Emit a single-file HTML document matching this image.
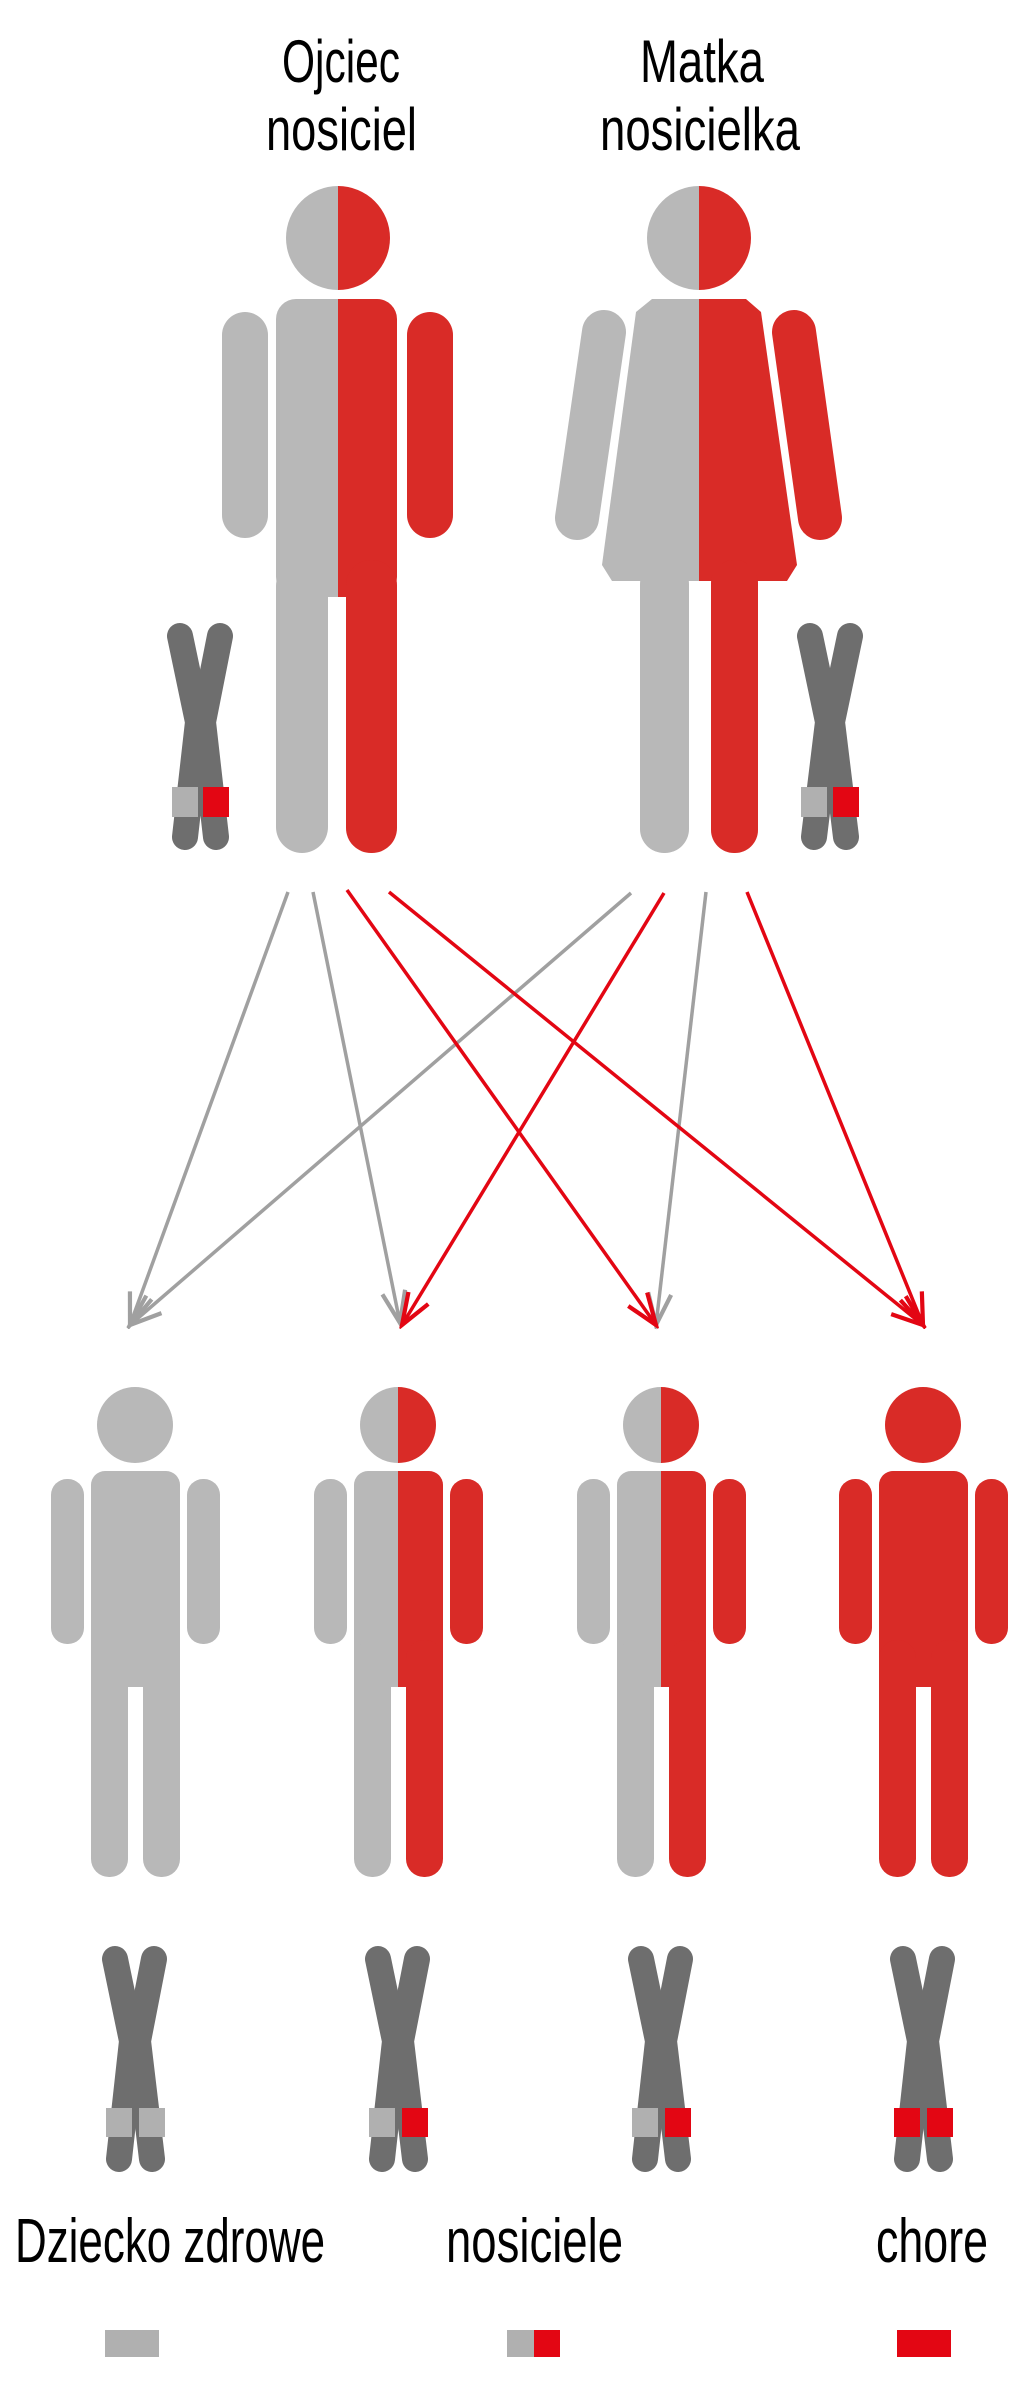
<!DOCTYPE html>
<html><head><meta charset="utf-8"><style>
html,body{margin:0;padding:0;background:#fff}
svg{display:block}
text{font-family:"Liberation Sans Narrow","Liberation Sans",sans-serif;fill:#000}
</style></head><body>
<svg width="1024" height="2383" viewBox="0 0 1024 2383" xmlns="http://www.w3.org/2000/svg">
<defs>
<marker id="ag" markerUnits="userSpaceOnUse" markerWidth="40" markerHeight="40" refX="0" refY="0" viewBox="-34 -16 38 32" orient="auto"><path d="M-30,-11 L0,0 L-30,11" fill="none" stroke="#a0a0a0" stroke-width="4"/></marker>
<marker id="ar" markerUnits="userSpaceOnUse" markerWidth="40" markerHeight="40" refX="0" refY="0" viewBox="-34 -16 38 32" orient="auto"><path d="M-30,-11 L0,0 L-30,11" fill="none" stroke="#e30613" stroke-width="4"/></marker>
</defs>

<text x="282" y="82" font-size="60" textLength="118" lengthAdjust="spacingAndGlyphs">Ojciec</text>
<text x="266" y="150" font-size="60" textLength="151" lengthAdjust="spacingAndGlyphs">nosiciel</text>
<text x="640" y="82" font-size="60" textLength="124" lengthAdjust="spacingAndGlyphs">Matka</text>
<text x="600" y="150" font-size="60" textLength="200" lengthAdjust="spacingAndGlyphs">nosicielka</text>

<clipPath id="fl"><rect x="0" y="0" width="338" height="1000"/></clipPath>
<clipPath id="fr"><rect x="338" y="0" width="300" height="1000"/></clipPath>
<defs>
<g id="fshape">
<circle cx="338" cy="238" r="52"/><rect x="276" y="299" width="121" height="298" rx="20"/><rect x="276" y="560" width="52" height="293" rx="26"/><rect x="346" y="560" width="51" height="293" rx="25"/><rect x="222" y="312" width="46" height="226" rx="23"/><rect x="407" y="312" width="46" height="226" rx="23"/>
</g>
</defs>
<g clip-path="url(#fl)"><use href="#fshape" fill="#b8b8b8"/></g>
<g clip-path="url(#fr)"><use href="#fshape" fill="#d92b27"/></g>
<rect x="328" y="597" width="18" height="270" fill="#fff"/>

<clipPath id="ml"><rect x="500" y="0" width="199" height="1000"/></clipPath>
<clipPath id="mr"><rect x="699" y="0" width="200" height="1000"/></clipPath>
<defs>
<g id="mshape">
<circle cx="699" cy="238" r="52"/><polygon points="636,312 652,299 746,299 761,312 797,565 787,581 612,581 602,565"/><rect x="640" y="560" width="49" height="293" rx="24"/><rect x="711" y="560" width="47" height="293" rx="23"/>
<line x1="604" y1="332" x2="577" y2="518" stroke-width="44" stroke-linecap="round"/><line x1="794" y1="332" x2="820" y2="518" stroke-width="44" stroke-linecap="round"/>
</g>
</defs>
<g clip-path="url(#ml)"><use href="#mshape" fill="#b8b8b8" stroke="#b8b8b8" stroke-width="0"/></g>
<g clip-path="url(#mr)"><use href="#mshape" fill="#d92b27" stroke="#d92b27" stroke-width="0"/></g>
<rect x="689" y="592" width="22" height="275" fill="#fff"/>

<g fill="none" stroke="#6e6e6e" stroke-width="26" stroke-linecap="round" stroke-linejoin="round">
<polyline points="180,636 198,722 185,837"/><polyline points="220,636 203,722 216,837"/>
<polyline points="810,636 828,722 814,837"/><polyline points="850,636 832,722 846,837"/>
</g>
<rect x="172" y="787" width="26" height="30" fill="#b0b0b0"/><rect x="203" y="787" width="26" height="30" fill="#e30613"/>
<rect x="801" y="787" width="26" height="30" fill="#b0b0b0"/><rect x="833" y="787" width="26" height="30" fill="#e30613"/>

<g fill="none" stroke-width="3.5">
<line x1="288" y1="892" x2="130" y2="1325" stroke="#a0a0a0" marker-end="url(#ag)"/>
<line x1="313" y1="892" x2="400" y2="1323" stroke="#a0a0a0" marker-end="url(#ag)"/>
<line x1="631" y1="893" x2="130" y2="1325" stroke="#a0a0a0" marker-end="url(#ag)"/>
<line x1="706" y1="892" x2="656" y2="1325" stroke="#a0a0a0" marker-end="url(#ag)"/>
<line x1="347" y1="890" x2="656" y2="1325" stroke="#e30613" marker-end="url(#ar)"/>
<line x1="389" y1="892" x2="923" y2="1325" stroke="#e30613" marker-end="url(#ar)"/>
<line x1="664" y1="893" x2="402" y2="1325" stroke="#e30613" marker-end="url(#ar)"/>
<line x1="747" y1="892" x2="923" y2="1325" stroke="#e30613" marker-end="url(#ar)"/>
</g>

<defs>
<g id="kid">
<circle cx="0" cy="1425" r="38"/><rect x="-44" y="1471" width="89" height="216" rx="14"/><rect x="-44" y="1640" width="37" height="237" rx="18"/><rect x="8" y="1640" width="37" height="237" rx="18"/><rect x="-84" y="1479" width="33" height="165" rx="16"/><rect x="52" y="1479" width="33" height="165" rx="16"/>
</g>
<clipPath id="kl"><rect x="-100" y="1300" width="100" height="600"/></clipPath>
<clipPath id="kr"><rect x="0" y="1300" width="100" height="600"/></clipPath>
<g id="chr">
<g fill="none" stroke="#6e6e6e" stroke-width="26" stroke-linecap="round" stroke-linejoin="round">
<polyline points="-20,1959 -3,2041 -16,2159"/><polyline points="19,1959 3,2041 17,2159"/>
</g>
</g>
<rect id="gap" x="-7" y="1687" width="15" height="195" fill="#fff"/>
</defs>

<g transform="translate(135,0)"><use href="#kid" fill="#b8b8b8"/><use href="#gap"/><use href="#chr"/><rect x="-29" y="2108" width="26" height="29" fill="#b0b0b0"/><rect x="4" y="2108" width="26" height="29" fill="#b0b0b0"/></g>
<g transform="translate(398,0)"><g clip-path="url(#kl)"><use href="#kid" fill="#b8b8b8"/></g><g clip-path="url(#kr)"><use href="#kid" fill="#d92b27"/></g><use href="#gap"/><use href="#chr"/><rect x="-29" y="2108" width="26" height="29" fill="#b0b0b0"/><rect x="4" y="2108" width="26" height="29" fill="#e30613"/></g>
<g transform="translate(661,0)"><g clip-path="url(#kl)"><use href="#kid" fill="#b8b8b8"/></g><g clip-path="url(#kr)"><use href="#kid" fill="#d92b27"/></g><use href="#gap"/><use href="#chr"/><rect x="-29" y="2108" width="26" height="29" fill="#b0b0b0"/><rect x="4" y="2108" width="26" height="29" fill="#e30613"/></g>
<g transform="translate(923,0)"><use href="#kid" fill="#d92b27"/><use href="#gap"/><use href="#chr"/><rect x="-29" y="2108" width="26" height="29" fill="#e30613"/><rect x="4" y="2108" width="26" height="29" fill="#e30613"/></g>

<text x="15" y="2262" font-size="62" textLength="310" lengthAdjust="spacingAndGlyphs">Dziecko zdrowe</text>
<text x="446" y="2262" font-size="62" textLength="177" lengthAdjust="spacingAndGlyphs">nosiciele</text>
<text x="876" y="2262" font-size="62" textLength="112" lengthAdjust="spacingAndGlyphs">chore</text>

<rect x="105" y="2330" width="54" height="27" fill="#b0b0b0"/>
<rect x="507" y="2330" width="27" height="27" fill="#b0b0b0"/><rect x="534" y="2330" width="26" height="27" fill="#e30613"/>
<rect x="897" y="2330" width="54" height="27" fill="#e30613"/>
</svg>
</body></html>
